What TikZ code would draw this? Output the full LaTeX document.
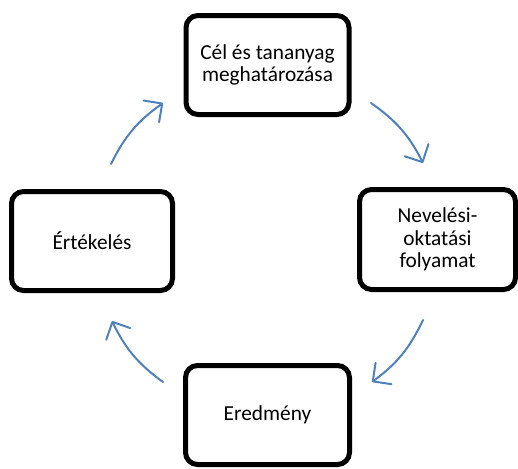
\documentclass[tikz,border=0pt]{standalone}
\usepackage{fontspec}
\setmainfont{Carlito}
\usetikzlibrary{positioning, calc}
\usetikzlibrary{arrows.meta}
\definecolor{ivkek}{HTML}{4F81BD}
\tikzset{
  lepes/.style={draw=black, line width=3.75pt, rounded corners=9pt, fill=white,
    align=center, inner sep=0pt, font=\fontsize{16pt}{17pt}\selectfont},
  ivnyil/.style={draw=ivkek, line width=1.5pt, line cap=round,
    -{Straight Barb[length=10pt,width=20pt,line cap=round,line join=round]}}
}

\begin{document}
\begin{tikzpicture}[x=0.75pt, y=-0.75pt]
                \useasboundingbox (0,0) rectangle (518,468);
                % a negy lepes
                \node[lepes, minimum width=163*0.75pt, minimum height=99*0.75pt] (cel) at (267.5,65) {C\'el \'es tananyag\\meghat\'aroz\'asa};
                \node[lepes, minimum width=156*0.75pt, minimum height=100*0.75pt] (folyamat) at (437.5,239.5) {Nevel\'esi-\\oktat\'asi\\folyamat};
                \node[lepes, minimum width=164*0.75pt, minimum height=99*0.75pt] (eredmeny) at (267.5,415) {Eredm\'eny};
                \node[lepes, minimum width=161*0.75pt, minimum height=99*0.75pt] (ertekeles) at (92,241) {\'Ert\'ekel\'es};
                % az ivek vegpontjai
                \coordinate (i1a) at (111,164);
                \coordinate (i1b) at (163,103);
                \coordinate (i2a) at (371,103);
                \coordinate (i2b) at (423,163);
                \coordinate (i3a) at (423,320);
                \coordinate (i3b) at (372,382);
                \coordinate (i4a) at (163,382);
                \coordinate (i4b) at (112,321);
                \draw[ivnyil] (i1a) to[bend left=14] (i1b);
                \draw[ivnyil] (i2a) to[bend left=14] (i2b);
                \draw[ivnyil] (i3a) to[bend left=14] (i3b);
                \draw[ivnyil] (i4a) to[bend left=14] (i4b);
            \end{tikzpicture}
\end{document}
